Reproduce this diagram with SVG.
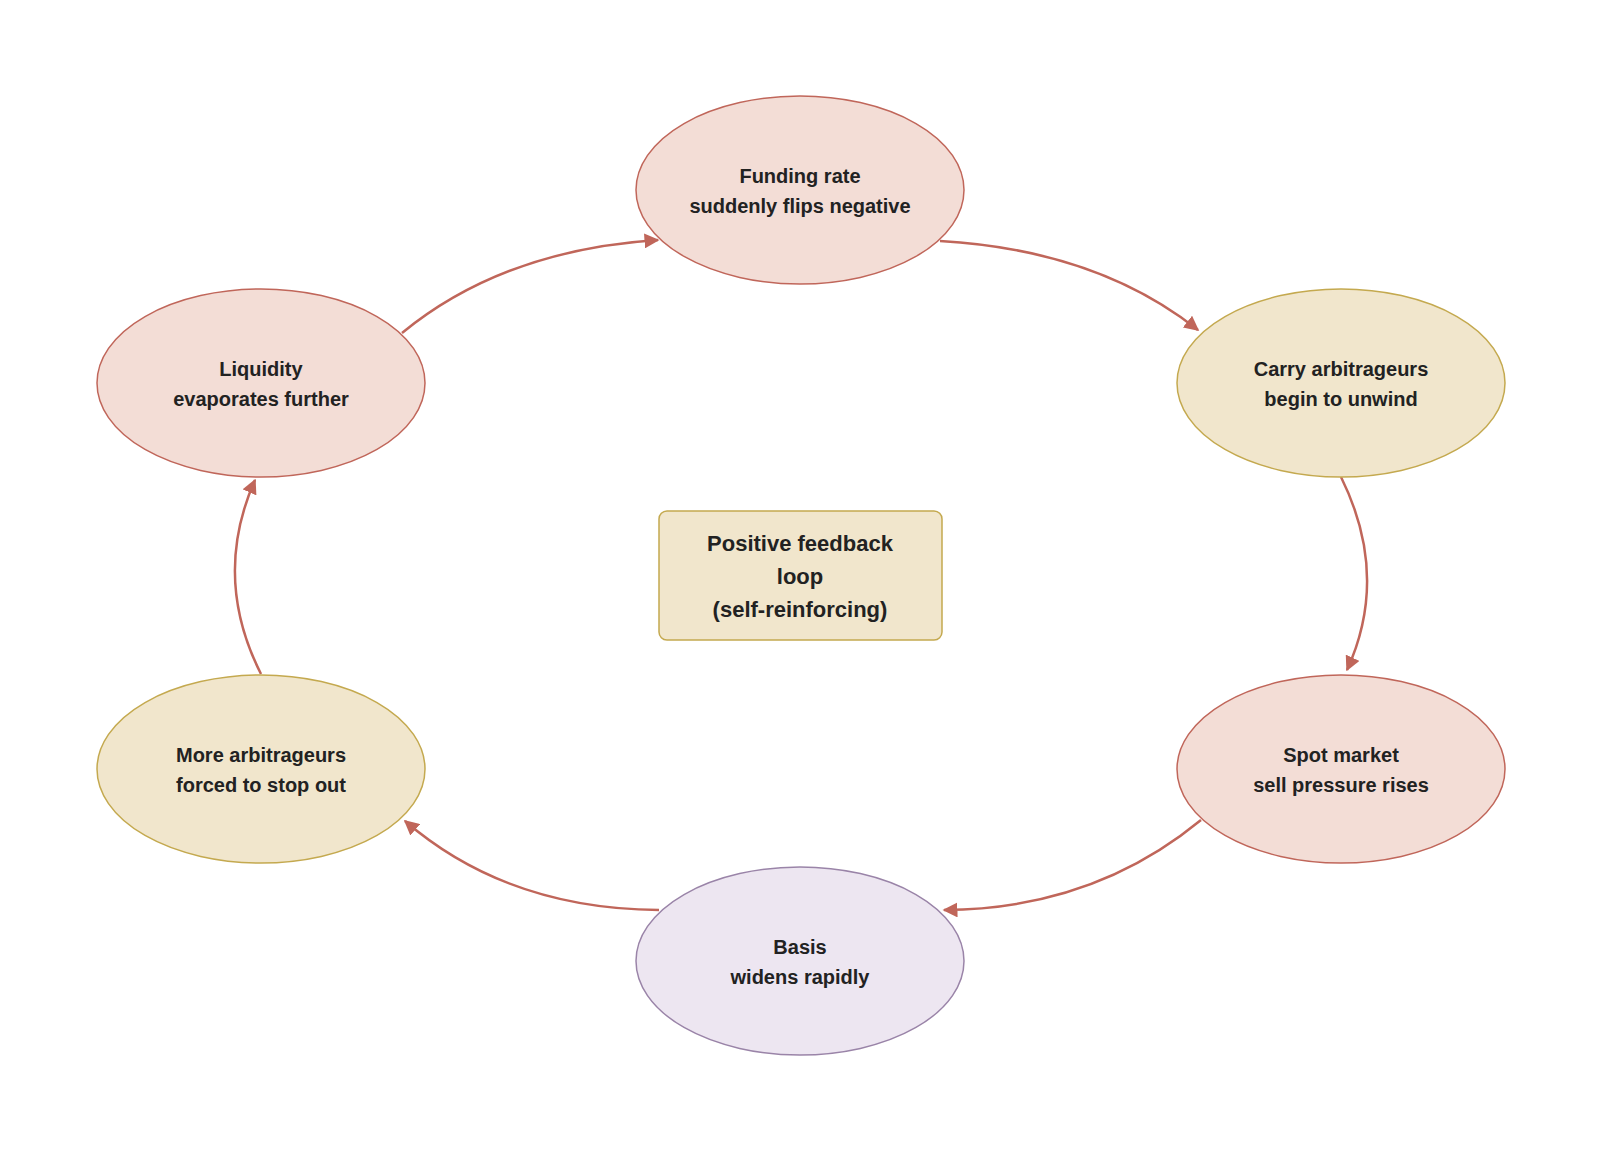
<svg xmlns="http://www.w3.org/2000/svg" width="1600" height="1150" viewBox="0 0 1600 1150">
<defs>
<marker id="ah" viewBox="0 0 10 10" refX="9" refY="5" markerWidth="6" markerHeight="6" markerUnits="strokeWidth" orient="auto"><path d="M0,0 L10,5 L0,10 z" fill="#c0665a"/></marker>
<style>
.n text{font-family:"Liberation Sans",Arial,sans-serif;font-weight:bold;font-size:20px;fill:#222;text-anchor:middle}
.pink{fill:#f3ddd6;stroke:#c0665a;stroke-width:1.5}
.yel{fill:#f1e6cc;stroke:#c4a94f;stroke-width:1.5}
.pur{fill:#ede6f1;stroke:#9a84a8;stroke-width:1.5}
.e{fill:none;stroke:#c0665a;stroke-width:2.5;marker-end:url(#ah)}
</style>
</defs>
<rect width="1600" height="1150" fill="#fff"/>
<g id="connectors">
<path class="e" d="M940,241 Q1097,250 1198,330"/>
<path class="e" d="M1341,477 Q1390,576 1347,670"/>
<path class="e" d="M1201,820 Q1093,909 944,910"/>
<path class="e" d="M659,910 Q507,909 405,821"/>
<path class="e" d="M261,674 Q212,577 255,480"/>
<path class="e" d="M402,333 Q503,250 658,240"/>
</g>
<g id="n1" class="n"><ellipse class="pink" cx="800" cy="190" rx="164" ry="94"/><text x="800" y="183">Funding rate</text><text x="800" y="213">suddenly flips negative</text></g>
<g id="n2" class="n"><ellipse class="yel" cx="1341" cy="383" rx="164" ry="94"/><text x="1341" y="376">Carry arbitrageurs</text><text x="1341" y="406">begin to unwind</text></g>
<g id="n3" class="n"><ellipse class="pink" cx="1341" cy="769" rx="164" ry="94"/><text x="1341" y="762">Spot market</text><text x="1341" y="792">sell pressure rises</text></g>
<g id="n4" class="n"><ellipse class="pur" cx="800" cy="961" rx="164" ry="94"/><text x="800" y="954">Basis</text><text x="800" y="984">widens rapidly</text></g>
<g id="n5" class="n"><ellipse class="yel" cx="261" cy="769" rx="164" ry="94"/><text x="261" y="762">More arbitrageurs</text><text x="261" y="792">forced to stop out</text></g>
<g id="n6" class="n"><ellipse class="pink" cx="261" cy="383" rx="164" ry="94"/><text x="261" y="376">Liquidity</text><text x="261" y="406">evaporates further</text></g>
<g id="center" class="n"><rect class="yel" x="659" y="511" width="283" height="129" rx="8"/><text x="800" y="551" style="font-size:22px">Positive feedback</text><text x="800" y="584" style="font-size:22px">loop</text><text x="800" y="617" style="font-size:22px">(self-reinforcing)</text></g>
</svg>
